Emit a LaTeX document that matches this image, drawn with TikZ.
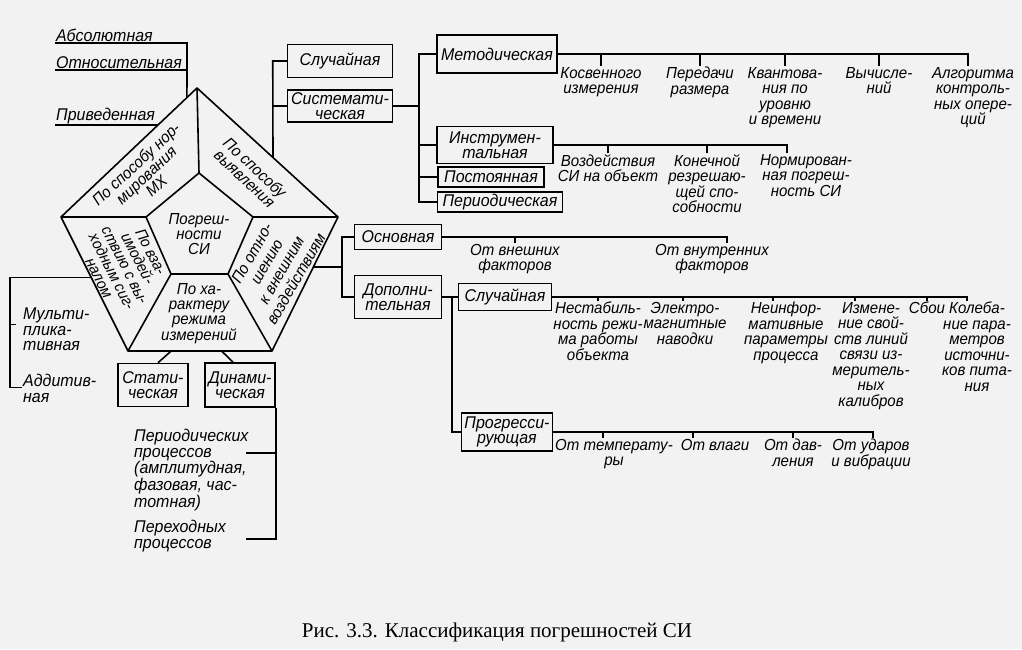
\documentclass[tikz,border=0pt]{standalone}
\usepackage{fontspec}
\setmainfont{Liberation Sans}[FakeStretch=0.94]
\newfontfamily\capfont{Liberation Serif}
\usetikzlibrary{calc}

\begin{document}
\begin{tikzpicture}[x=1pt, y=-1pt,
    every node/.style={font=\itshape\fontsize{16}{15.5}\selectfont},
    bx/.style={draw, line width=1.5pt, align=center, inner xsep=2pt, inner ysep=1pt,
        font=\itshape\fontsize{17}{15.5}\selectfont},
    lbl/.style={align=center, inner sep=1pt},
    lst/.style={inner sep=1pt, font=\itshape\fontsize{17}{15.5}\selectfont},
    pent/.style={align=center, inner sep=0pt, font=\itshape\fontsize{16}{15}\selectfont},
    ln/.style={line width=1.6pt}]
    \fill[black!5] (0,0) rectangle (1022,649);
    \useasboundingbox (0,0) rectangle (1022,649);

    % pentagon
    \coordinate (o1) at (197,88);
    \coordinate (o2) at (338,217);
    \coordinate (o3) at (272,351);
    \coordinate (o4) at (128,351);
    \coordinate (o5) at (61,217);
    \coordinate (i1) at (199,173);
    \coordinate (i2) at (253,217);
    \coordinate (i3) at (228,274);
    \coordinate (i4) at (171,274);
    \coordinate (i5) at (146,217);
    \draw[ln, line join=round] (o1) -- (o2) -- (o3) -- (o4) -- (o5) -- cycle;
    \draw[ln] (i1) -- (i2) -- (i3) -- (i4) -- (i5) -- cycle;
    \foreach \k in {1,...,5} \draw[ln] (o\k) -- (i\k);
    \node[pent, rotate=43] (secA) at (146,175) {По способу нор-\\мирования\\МХ};
    \node[pent, rotate=-43] (secB) at (250,173) {По способу\\выявления};
    \node[pent, rotate=60, font=\itshape\fontsize{16}{17}\selectfont] (secC) at (274,266) {По отно-\\шению\\к внешним\\воздействиям};
    \node[pent, rotate=-63, font=\itshape\fontsize{15.5}{14.5}\selectfont] (secD) at (125,265) {По вза-\\имодей-\\ствию с вы-\\ходным сиг-\\налом};
    \node[pent] (secE) at (199,314) {По ха-\\рактеру\\режима\\измерений};
    \node[pent] (core) at (199,234) {Погреш-\\ности\\СИ};

    % normalisation
    \node[lst, anchor=south west] (abs) at (55,43) {Абсолютная};
    \node[lst, anchor=south west] (otn) at (55,70) {Относительная};
    \node[lst, anchor=south west] (priv) at (55,125) {Приведенная};
    \draw[ln] (abs.south west) -- ++(132,0) coordinate (ja) -- ($(o5)!0.926!(o1)$);
    \draw[ln] (otn.south west) -- (otn.south west -| ja);
    \draw[ln] (priv.south west) -- ($(o5)!0.713!(o1)$);

    % detection
    \node[bx, minimum width=105, minimum height=33] (slA) at (340,61) {Случайная};
    \node[bx, minimum width=105, minimum height=32] (sys) at (340,106) {Системати-\\ческая};
    \draw[ln] (slA.west) -- ++(-14,0) -- ($(o1)!0.539!(o2)$);
    \draw[ln] (sys.west) -- ++(-14,0);
    \node[bx, minimum width=120, minimum height=38] (met) at (497,54) {Методическая};
    \node[bx, minimum width=116, minimum height=37] (ins) at (495,145) {Инструмен-\\тальная};
    \node[bx, minimum width=106, minimum height=20] (post) at (491,177) {Постоянная};
    \node[bx, minimum width=125, minimum height=20] (per) at (500,202) {Периодическая};
    \draw[ln] (sys.east) -- ++(26,0) coordinate (js);
    \draw[ln] (met.west) -- (met.west -| js) |- (per.west);
    \draw[ln] (ins.west) -- (ins.west -| js);
    \draw[ln] (post.west) -- (post.west -| js);

    \node[lbl, anchor=north] (kosv) at (601,66) {Косвенного\\измерения};
    \node[lbl, anchor=north] (pered) at (700,66) {Передачи\\размера};
    \node[lbl, anchor=north] (kvant) at (785,66) {Квантова-\\ния по\\уровню\\и времени};
    \node[lbl, anchor=north] (vych) at (879,66) {Вычисле-\\ний};
    \node[lbl, anchor=north] (algo) at (973,66) {Алгоритма\\контроль-\\ных опере-\\ций};
    \draw[ln] (met.east) -| ([xshift=-5pt]algo.north);
    \foreach \n in {kosv,pered,kvant,vych} \draw[ln] (\n.north) -- (\n.north |- met.east);

    \node[lbl, anchor=north] (vozd) at (608,153) {Воздействия\\СИ на объект};
    \node[lbl, anchor=north] (kon) at (707,153) {Конечной\\резрешаю-\\щей спо-\\собности};
    \node[lbl, anchor=north] (norm) at (806,153) {Нормирован-\\ная погреш-\\ность СИ};
    \draw[ln] (ins.east) -| ([xshift=-19pt]norm.north);
    \foreach \n in {vozd,kon} \draw[ln] (\n.north) -- (\n.north |- ins.east);

    % external influences
    \node[bx, minimum width=87, minimum height=25] (osn) at (398,237) {Основная};
    \node[bx, minimum width=87, minimum height=43] (dop) at (398,297) {Дополни-\\тельная};
    \draw[ln] (osn.west) -- ++(-12,0) coordinate (jb) |- (dop.west);
    \draw[ln] ($(o2)!0.373!(o3)$) coordinate (jr) -- (jb |- jr);
    \node[lbl, anchor=north] (vnesh) at (515,243) {От внешних\\факторов};
    \node[lbl, anchor=north] (vnutr) at (712,243) {От внутренних\\факторов};
    \draw[ln] (osn.east) -| ([xshift=15pt]vnutr.north);
    \draw[ln] (vnesh.north) -- (vnesh.north |- osn.east);

    \node[bx, minimum width=93, minimum height=27] (slB) at (505,297) {Случайная};
    \node[bx, minimum width=91, minimum height=38] (prog) at (507,432) {Прогресси-\\рующая};
    \draw[ln] (dop.east) -- ++(10,0) coordinate (jd) |- (prog.west);
    \draw[ln] (slB.west) -- (slB.west -| jd);

    \node[lbl, anchor=north] (nestab) at (598,301) {Нестабиль-\\ность режи-\\ма работы\\объекта};
    \node[lbl, anchor=north] (elektro) at (685,301) {Электро-\\магнитные\\наводки};
    \node[lbl, anchor=north] (neinf) at (786,301) {Неинфор-\\мативные\\параметры\\процесса};
    \node[lbl, anchor=north] (izmen) at (871,301) {Измене-\\ние свой-\\ств линий\\связи из-\\меритель-\\ных\\калибров};
    \node[lbl, anchor=north] (sboi) at (927,301) {Сбои};
    \node[lbl, anchor=north] (koleb) at (977,301) {Колеба-\\ние пара-\\метров\\источни-\\ков пита-\\ния};
    \draw[ln] (slB.east) -| ([xshift=-10pt]koleb.north);
    \foreach \n in {nestab,sboi} \draw[ln] (\n.north) -- (\n.north |- slB.east);
    \draw[ln] ([xshift=-2pt]elektro.north) -- ([xshift=-2pt]elektro.north |- slB.east);
    \draw[ln] ([xshift=-13pt]neinf.north) -- ([xshift=-13pt]neinf.north |- slB.east);
    \draw[ln] ([xshift=-16pt]izmen.north) -- ([xshift=-16pt]izmen.north |- slB.east);

    \node[lbl, anchor=north] (temp) at (614,438) {От температу-\\ры};
    \node[lbl, anchor=north] (vlag) at (715,438) {От влаги};
    \node[lbl, anchor=north] (davl) at (793,438) {От дав-\\ления};
    \node[lbl, anchor=north] (udar) at (871,438) {От ударов\\и вибрации};
    \draw[ln] (prog.east) -| ([xshift=2pt]udar.north);
    \draw[ln] (davl.north) -- (davl.north |- prog.east);
    \draw[ln] ([xshift=-11pt]temp.north) -- ([xshift=-11pt]temp.north |- prog.east);
    \draw[ln] ([xshift=-22pt]vlag.north) -- ([xshift=-22pt]vlag.north |- prog.east);

    % interaction with signal
    \node[lst, anchor=north west, align=left] (mult) at (22,307) {Мульти-\\плика-\\тивная};
    \node[lst, anchor=north west, align=left] (add) at (22,373) {Аддитив-\\ная};
    \draw[ln] ($(o5)!0.452!(o4)$) -- ++(-81,0) coordinate (jm) -- ++(0,110) -- ++(12,0);
    \draw[ln] ([yshift=5pt]jm |- mult.west) -- ++(6,0);

    % measurement mode
    \node[bx, minimum width=70, minimum height=43] (stat) at (153,385) {Стати-\\ческая};
    \node[bx, minimum width=70, minimum height=44] (din) at (240,385) {Динами-\\ческая};
    \draw[ln] ($(o4)!0.3!(o3)$) -- ([xshift=5pt]stat.north);
    \draw[ln] ($(o4)!0.65!(o3)$) -- ([xshift=-7pt]din.north);
    \node[lst, anchor=north west, align=left] (perP) at (133,428) {Периодических\\процессов\\(амплитудная,\\фазовая, час-\\тотная)};
    \node[lst, anchor=north west, align=left] (perH) at (133,519) {Переходных\\процессов};
    \draw[ln] (din.south east) -- ++(0,131) -- ++(-30,0);
    \draw[ln] (din.south east) ++(0,45) -- ++(-30,0);

    \node[font=\capfont\fontsize{21}{24}\selectfont] (cap) at (497,632) {Рис. 3.3. Классификация погрешностей СИ};
\end{tikzpicture}
\end{document}
